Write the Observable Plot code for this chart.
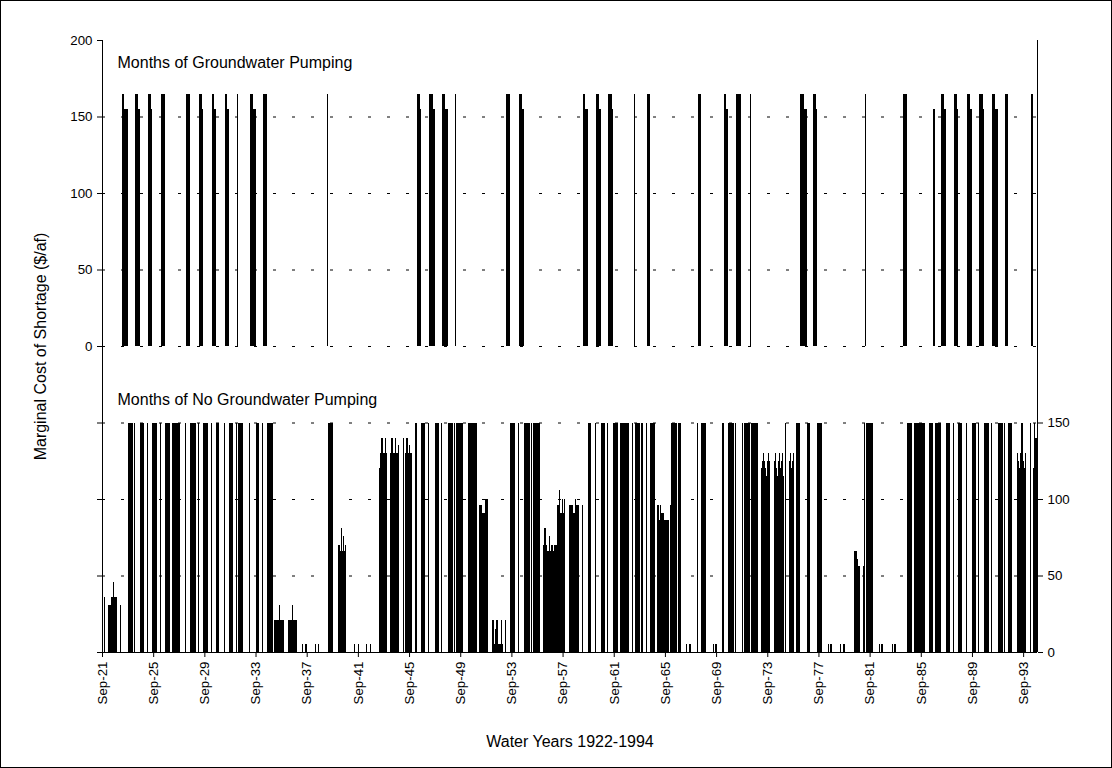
<!DOCTYPE html>
<html>
<head>
<meta charset="utf-8">
<script src="https://cdn.jsdelivr.net/npm/d3@7"></script>
<script src="https://cdn.jsdelivr.net/npm/@observablehq/plot@0.6"></script>
<style>
  html, body { margin: 0; padding: 0; background: #fff; }
  #figure { width: 1110px; height: 766px; border: 1px solid #000; overflow: hidden; }
  #figure svg { display: block; }
</style>
</head>
<body>
<div id="figure"></div>
<script>
// Monthly marginal cost of shortage ($/af), water years 1922-1994.
// Each run: [first month, monthly values]; months not listed are zero.
const firstMonth = "1921-09";
const lastMonth = "1994-09";

// Months with groundwater pumping (upper panel)
const pumpingRuns = [
  ["1923-04", [165, 165, 155, 155, 155]],
  ["1924-04", [165, 165, 165, 155, 155]],
  ["1925-04", [165, 165, 165, 155]],
  ["1926-04", [165, 165, 165, 165]],
  ["1928-04", [165, 165, 165, 165]],
  ["1929-04", [165, 165, 165, 155]],
  ["1930-04", [165, 165, 155, 155]],
  ["1931-04", [165, 165, 155, 155]],
  ["1932-04", [165]],
  ["1933-04", [165, 165, 165, 155, 155]],
  ["1934-04", [165, 165, 165, 165]],
  ["1939-04", [165]],
  ["1946-04", [165, 165, 165, 155]],
  ["1947-04", [165, 165, 165, 155, 155]],
  ["1948-04", [165, 165, 165, 155, 155, 155]],
  ["1949-04", [165]],
  ["1953-04", [165, 165, 165, 165]],
  ["1954-04", [165, 165, 165, 155, 155]],
  ["1959-04", [165, 165, 155, 155, 155]],
  ["1960-04", [165, 165, 165, 155, 155]],
  ["1961-04", [165, 165, 165, 155]],
  ["1963-04", [165]],
  ["1964-04", [165, 165, 165]],
  ["1968-04", [165, 165, 165]],
  ["1970-04", [165, 165, 155, 155]],
  ["1971-04", [165, 165, 165, 165]],
  ["1972-05", [165]],
  ["1976-04", [165, 165, 165, 155, 155, 155]],
  ["1977-04", [165, 165, 165, 155]],
  ["1981-05", [165]],
  ["1984-04", [165, 165, 165, 165]],
  ["1986-08", [155, 155]],
  ["1987-04", [165, 165, 165, 155, 155]],
  ["1988-04", [165, 165, 165, 155]],
  ["1989-04", [165, 165, 165, 155, 155]],
  ["1990-04", [165, 165, 165, 155]],
  ["1991-04", [165, 165, 165, 155, 155]],
  ["1992-04", [165, 165, 165]],
  ["1994-04", [165, 165]]
];

// Months with no groundwater pumping (lower panel)
const noPumpingRuns = [
  ["1921-11", [36]],
  ["1922-03", [31, 31, 36, 36, 46, 36, 36, 36]],
  ["1923-02", [31]],
  ["1923-09", [150, 150, 150, 150, 150]],
  ["1924-03", [150]],
  ["1924-09", [150, 150, 150]],
  ["1925-03", [150]],
  ["1925-08", [150, 150, 150, 150, 150]],
  ["1926-03", [150]],
  ["1926-08", [150, 150, 150, 150, 150]],
  ["1927-03", [150, 150, 150, 150, 150, 150, 150]],
  ["1928-03", [150]],
  ["1928-08", [150, 150, 150, 150, 150]],
  ["1929-03", [150]],
  ["1929-08", [150, 150, 150, 150]],
  ["1930-03", [150]],
  ["1930-08", [150, 150, 150]],
  ["1931-03", [150]],
  ["1931-08", [150, 150, 150, 150]],
  ["1932-03", [150]],
  ["1932-05", [150, 150, 150, 150]],
  ["1933-03", [150]],
  ["1933-09", [150, 150, 150]],
  ["1934-03", [150]],
  ["1934-08", [150, 150, 150, 150, 150]],
  ["1935-02", [21, 21, 21, 21, 21, 31, 21, 21, 21, 21]],
  ["1936-03", [21, 21, 21, 21, 31, 21, 21, 21, 21]],
  ["1937-05", [5, 0, 5, 5]],
  ["1938-05", [5, 0, 0, 5]],
  ["1939-05", [150, 150, 150, 150, 150]],
  ["1940-02", [70, 70, 66, 81, 66, 76, 66, 70]],
  ["1941-05", [5, 0, 0, 0, 5]],
  ["1942-05", [5, 0, 0, 5]],
  ["1943-05", [120, 130, 140, 140, 130, 140, 130]],
  ["1944-03", [130, 140, 140, 130, 130, 140, 130, 130, 135]],
  ["1945-03", [140, 0, 130, 140, 140, 130, 135, 130, 130]],
  ["1946-03", [150]],
  ["1946-08", [150, 150, 150, 150]],
  ["1947-03", [150]],
  ["1947-09", [150, 150, 150, 150]],
  ["1948-03", [150]],
  ["1948-10", [150, 150, 150, 150]],
  ["1949-03", [150]],
  ["1949-05", [150, 150, 150, 150, 150, 150, 150]],
  ["1950-04", [150, 150, 150, 150, 150, 150, 150, 150, 150]],
  ["1951-03", [96, 96, 91, 91, 91, 100, 100, 100]],
  ["1952-03", [21, 21, 5, 15, 21, 5, 5, 5, 21, 5]],
  ["1953-03", [21]],
  ["1953-08", [150, 150, 150, 150]],
  ["1954-03", [150]],
  ["1954-09", [150, 150, 150, 150, 150]],
  ["1955-03", [150]],
  ["1955-05", [150, 150, 150, 150, 150, 150, 150]],
  ["1956-03", [70, 81, 70, 66, 66, 76, 66, 70, 70, 66, 70, 70]],
  ["1957-03", [70, 96, 96, 106, 91, 100, 91, 100]],
  ["1958-03", [96, 96, 96, 96, 91, 91, 100, 96, 96]],
  ["1959-03", [96]],
  ["1959-09", [150, 150, 150]],
  ["1960-03", [150]],
  ["1960-09", [150, 150, 150, 150]],
  ["1961-03", [150]],
  ["1961-08", [150, 150, 150, 150, 150]],
  ["1962-03", [150, 150, 150, 150, 150, 150, 150, 150]],
  ["1963-02", [150]],
  ["1963-05", [150, 150, 150, 150, 150]],
  ["1963-11", [150]],
  ["1964-03", [150]],
  ["1964-07", [150, 150, 150, 150, 150]],
  ["1965-02", [96, 86, 96, 91, 91, 91, 86, 86, 86, 86, 86]],
  ["1966-02", [96, 150, 150, 150, 150, 150, 0, 150, 150, 150]],
  ["1967-05", [5, 0, 0, 5]],
  ["1968-03", [150]],
  ["1968-07", [150, 150, 150, 150, 150]],
  ["1969-06", [5, 0, 5, 5]],
  ["1970-03", [150]],
  ["1970-08", [150, 150, 150, 150, 150, 150]],
  ["1971-03", [150]],
  ["1971-09", [150, 0, 150, 150, 150, 150, 150, 150]],
  ["1972-06", [150, 150, 150, 150, 150, 150]],
  ["1973-03", [120, 125, 130, 125, 120, 115, 125, 130, 125]],
  ["1974-03", [125, 130, 120, 115, 125, 130, 120, 125, 130, 115]],
  ["1975-02", [150, 0, 0, 125, 130, 120, 125, 130]],
  ["1975-12", [150, 150, 150, 150]],
  ["1976-10", [150, 150, 150]],
  ["1977-08", [150, 150, 150, 150]],
  ["1978-06", [5, 0, 5, 5]],
  ["1979-05", [5, 0, 0, 5, 5]],
  ["1980-06", [66, 66, 66, 61, 56, 56, 0, 0, 0, 56]],
  ["1981-04", [150]],
  ["1981-06", [150, 150, 150, 150, 150, 150]],
  ["1982-06", [5, 0, 5, 5]],
  ["1983-06", [5, 0, 5, 5]],
  ["1984-08", [150, 150, 150, 150, 150]],
  ["1985-03", [150, 150, 150, 150, 150, 150, 150, 150, 150, 150]],
  ["1986-05", [150, 150, 150]],
  ["1986-10", [150, 150, 150, 150, 150]],
  ["1987-03", [150]],
  ["1987-09", [150, 150, 150]],
  ["1988-03", [150]],
  ["1988-08", [150, 150, 150, 150]],
  ["1989-03", [150]],
  ["1989-09", [150, 150, 150, 150]],
  ["1990-03", [150]],
  ["1990-08", [150, 150, 150, 150, 150]],
  ["1991-03", [150]],
  ["1991-09", [150, 150, 150, 150, 150]],
  ["1992-03", [150]],
  ["1992-07", [150, 150, 150, 150]],
  ["1993-03", [130, 125, 120, 130, 150, 150, 125, 120, 130]],
  ["1994-03", [150]],
  ["1994-06", [120, 150, 140, 140]]
];

// Category axis labels, one every four years
const tickLabels = ["Sep-21", "Sep-25", "Sep-29", "Sep-33", "Sep-37", "Sep-41", "Sep-45",
  "Sep-49", "Sep-53", "Sep-57", "Sep-61", "Sep-65", "Sep-69", "Sep-73", "Sep-77",
  "Sep-81", "Sep-85", "Sep-89", "Sep-93"];

// Cost axis ticks for each panel
const upperTicks = [0, 50, 100, 150, 200];
const lowerTicks = [0, 50, 100, 150];

// ---- helpers -------------------------------------------------------------
const [y0, m0] = firstMonth.split("-").map(Number);
const monthIndex = (s) => {
  const [y, m] = s.split("-").map(Number);
  return (y - y0) * 12 + (m - m0);
};
const nMonths = monthIndex(lastMonth) + 1;
const upperBase = 200; // the upper panel sits on top of the lower one

const expand = (runs, base) =>
  runs.flatMap(([start, vals]) =>
    vals.map((v, k) => ({i: monthIndex(start) + k, base, v}))
  ).filter((d) => d.v > 0);

const bars = [...expand(noPumpingRuns, 0), ...expand(pumpingRuns, upperBase)];

// "Sep-21" -> month index of September 1921
const labelIndex = tickLabels.map((t) => monthIndex(`${1900 + Number(t.slice(4))}-09`));
const labelAt = new Map(labelIndex.map((i, k) => [i, tickLabels[k]]));

// Left axis carries ticks for both panels; right axis labels the lower panel
const leftTicks = [...new Set([...lowerTicks, ...upperTicks.map((t) => t + upperBase)])]
  .sort((a, b) => a - b);
const gridLines = leftTicks.filter((v) => v > 0 && v < upperBase + 200);

const font = "'Liberation Sans', Arial, Helvetica, sans-serif";

const chart = Plot.plot({
  width: 1110,
  height: 766,
  marginLeft: 101,
  marginRight: 74,
  marginTop: 39,
  marginBottom: 115,
  style: {fontFamily: font, fontSize: "13.3px", background: "#fff", color: "#000", overflow: "visible"},
  x: {domain: [0, nMonths]},
  y: {domain: [0, upperBase + 200]},
  marks: [
    // dashed horizontal gridlines
    Plot.ruleY(gridLines, {stroke: "#000", strokeWidth: 1, strokeDasharray: "3,16"}),
    // monthly bars
    Plot.rect(bars, {
      x1: "i",
      x2: (d) => d.i + 1,
      y1: "base",
      y2: (d) => d.base + d.v,
      fill: "#000",
      shapeRendering: "crispEdges"
    }),
    // axis lines
    Plot.ruleX([0, nMonths], {y1: 0, y2: upperBase + 200, stroke: "#000", strokeWidth: 1}),
    Plot.ruleY([0], {stroke: "#000", strokeWidth: 1}),
    // left axis: upper-panel labels only
    Plot.axisY(leftTicks, {
      anchor: "left",
      tickSize: 5,
      tickPadding: 5,
      tickFormat: (v) => (v >= upperBase ? String(v - upperBase) : ""),
      label: null,
      fontSize: 13.3
    }),
    // right axis: lower-panel labels
    Plot.axisY(lowerTicks, {
      anchor: "right",
      tickSize: 5,
      tickPadding: 5,
      tickFormat: (v) => String(v),
      label: null,
      fontSize: 13.3
    }),
    // category axis
    Plot.axisX(labelIndex, {
      anchor: "bottom",
      tickSize: 5,
      tickPadding: 4,
      tickRotate: -90,
      tickFormat: (i) => labelAt.get(i),
      label: null,
      fontSize: 13.3
    }),
    // titles
    Plot.text(["Marginal Cost of Shortage ($/af)"], {
      frameAnchor: "left", dx: -62, rotate: -90, fontSize: 16,
      textAnchor: "middle", lineAnchor: "middle"
    }),
    Plot.text(["Water Years 1922-1994"], {
      frameAnchor: "bottom", dy: 89, fontSize: 16,
      textAnchor: "middle", lineAnchor: "middle"
    }),
    Plot.text(["Months of Groundwater Pumping"], {
      frameAnchor: "top-left", dx: 15, dy: 22, textAnchor: "start", fontSize: 16, lineAnchor: "middle"
    }),
    Plot.text(["Months of No Groundwater Pumping"], {
      frameAnchor: "top-left", dx: 15, dy: 359, textAnchor: "start", fontSize: 16, lineAnchor: "middle"
    })
  ]
});

document.getElementById("figure").appendChild(chart);
</script>
</body>
</html>
